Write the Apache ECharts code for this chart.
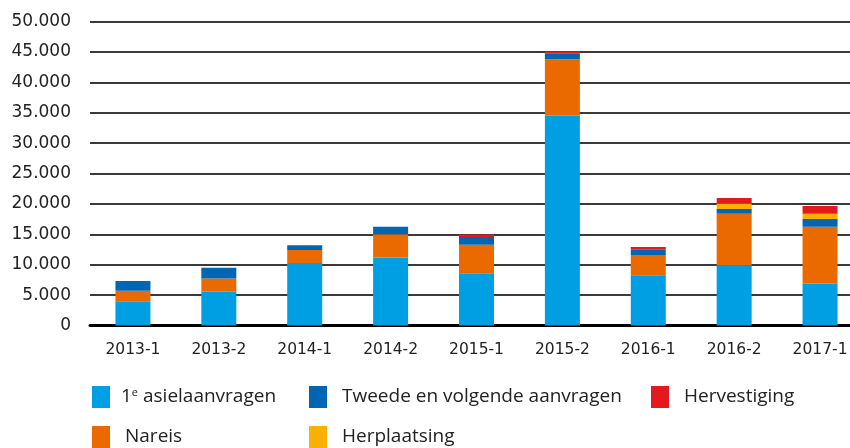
<!DOCTYPE html>
<html>
<head>
<meta charset="utf-8">
<script src="https://cdn.jsdelivr.net/npm/echarts@6/dist/echarts.min.js"></script>
<style>
  html, body { margin: 0; padding: 0; background: #fff; }
  #chart { width: 850px; height: 448px; }
</style>
</head>
<body>
<div id="chart"></div>
<script>
const categories = ['2013-1', '2013-2', '2014-1', '2014-2', '2015-1', '2015-2', '2016-1', '2016-2', '2017-1'];
const eersteAanvragen = [4000, 5550, 10300, 11200, 8600, 34500, 8250, 9900, 6900];
const nareis = [1700, 2200, 2100, 3800, 4700, 9300, 3350, 8500, 9350];
const tweedeAanvragen = [1600, 1750, 800, 1250, 1250, 900, 850, 750, 1250];
const herplaatsing = [0, 0, 0, 0, 0, 0, 0, 900, 900];
const hervestiging = [0, 0, 0, 0, 400, 400, 450, 900, 1250];

const font = 'Open Sans';
const axisFont = 'DejaVu Sans';
const myChart = echarts.init(document.getElementById('chart'));

// one legend per item so the positions match the picture
const legendItem = (name, left, top, pad) => ({
  data: [name],
  left: left,
  top: top,
  itemWidth: 18,
  itemHeight: 22,
  icon: 'rect',
  textStyle: {
    fontFamily: font,
    fontSize: 19,
    color: '#222',
    padding: [0, 0, 0, pad],
    rich: {
      sup: { fontFamily: font, fontSize: 11, color: '#222', verticalAlign: 'top', padding: [0, 0, 9, 0] },
      t: { fontFamily: font, fontSize: 19, color: '#222' },
    },
  },
  formatter: (n) => (n === '1e asielaanvragen' ? '{t|1}{sup|e}{t| asielaanvragen}' : n),
});

const bar = (name, data, color) => ({
  name: name,
  type: 'bar',
  stack: 'totaal',
  data: data,
  barWidth: 35,
  itemStyle: { color: color },
});

myChart.setOption({
  animation: false,
  textStyle: { fontFamily: font },
  grid: { left: 90, top: 21.5, height: 304, width: 773, outerBoundsMode: 'none', containLabel: false },
  legend: [
    legendItem('1e asielaanvragen', 87, 381, 6),
    legendItem('Tweede en volgende aanvragen', 304, 381, 10),
    legendItem('Hervestiging', 646, 381, 10),
    legendItem('Nareis', 87, 421, 10),
    legendItem('Herplaatsing', 304, 421, 10),
  ],
  xAxis: {
    type: 'category',
    data: categories,
    axisTick: { show: false },
    axisLine: { lineStyle: { color: '#000', width: 3 } },
    axisLabel: { fontFamily: axisFont, fontSize: 15.5, color: '#222', margin: 16 },
  },
  yAxis: {
    type: 'value',
    min: 0,
    max: 50000,
    interval: 5000,
    axisLabel: {
      fontFamily: axisFont,
      fontSize: 17,
      color: '#222',
      margin: 19,
      formatter: (v) => v.toLocaleString('nl-NL'),
    },
    splitLine: { lineStyle: { color: '#3a3a3a', width: 2 } },
  },
  series: [
    bar('1e asielaanvragen', eersteAanvragen, '#009fe3'),
    bar('Nareis', nareis, '#ea6a00'),
    bar('Tweede en volgende aanvragen', tweedeAanvragen, '#0066b3'),
    bar('Herplaatsing', herplaatsing, '#f9b000'),
    bar('Hervestiging', hervestiging, '#e3191b'),
  ],
});
</script>
</body>
</html>
